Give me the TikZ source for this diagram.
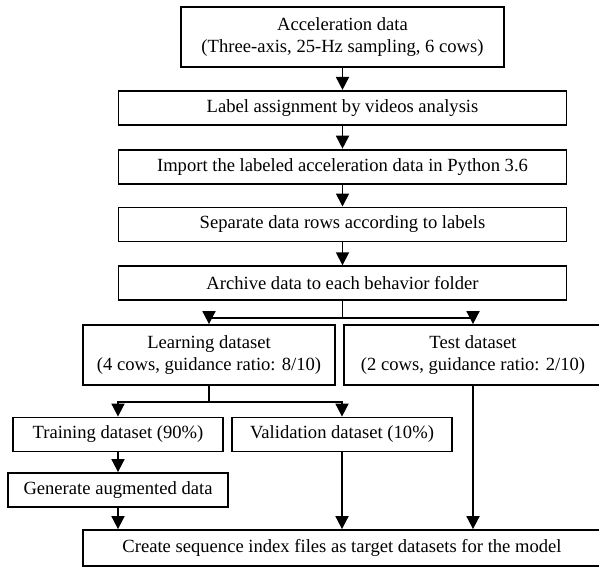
\documentclass[tikz,border=0pt]{standalone}
\usepackage{fontspec}
\setmainfont{Liberation Serif}
\usepackage{tikz}
\usetikzlibrary{arrows.meta,positioning}

\tikzset{
  box/.style={draw,rectangle,align=center,inner sep=2pt,minimum height=17pt,
    font=\fontsize{9.3pt}{11pt}\selectfont},
  tallbox/.style={box,minimum height=30pt}
}

\begin{document}
\begin{tikzpicture}[x=0.5pt,y=-0.5pt,->,>={Triangle[length=6.5pt,width=6.5pt]},line width=0.9pt]
  \useasboundingbox (0,0) rectangle (599,567);

  % main chain
  \node[tallbox,minimum width=161.5pt] (acc) at (342.5,37)
    {Acceleration data\\(Three-axis, 25-Hz sampling, 6 cows)};
  \node[box,minimum width=224pt] (label) [below=11pt of acc]
    {Label assignment by videos analysis};
  \node[box,minimum width=224pt] (import) [below=11.5pt of label]
    {Import the labeled acceleration data in Python 3.6};
  \node[box,minimum width=224pt] (sep) [below=11pt of import]
    {Separate data rows according to labels};
  \node[box,minimum width=224pt] (arch) [below=11.5pt of sep]
    {Archive data to each behavior folder};

  % datasets
  \node[tallbox,minimum width=126pt] (learn) at (209,355)
    {Learning dataset\\(4 cows, guidance ratio: 8/10)};
  \node[tallbox,minimum width=129pt] (test) at (473,355)
    {Test dataset\\(2 cows, guidance ratio: 2/10)};
  \node[box,minimum width=105pt] (train) at (118,434.5) {Training dataset (90\%)};
  \node[box,minimum width=110pt] (valid) at (342,434.5) {Validation dataset (10\%)};
  \node[box,minimum width=110pt] (gen) at (118,490) {Generate augmented data};
  \node[box,minimum width=259pt,minimum height=18pt] (target) at (342,548)
    {Create sequence index files as target datasets for the model};

  \path (arch.south) ++(0,17) coordinate (fork1);
  \path (learn.south) ++(0,16) coordinate (fork2);

  \draw (acc) -- (label);
  \draw (label) -- (import);
  \draw (import) -- (sep);
  \draw (sep) -- (arch);

  \draw[-] (arch) -- (fork1);
  \draw (fork1) -| (learn);
  \draw (fork1) -| (test);
  \draw[-] (learn) -- (fork2);
  \draw (fork2) -| (train);
  \draw (fork2) -| (valid);

  \draw (train) -- (gen);
  \draw (gen) -- (gen |- target.north);
  \draw (valid) -- (valid |- target.north);
  \draw (test) -- (test |- target.north);
\end{tikzpicture}
\end{document}
